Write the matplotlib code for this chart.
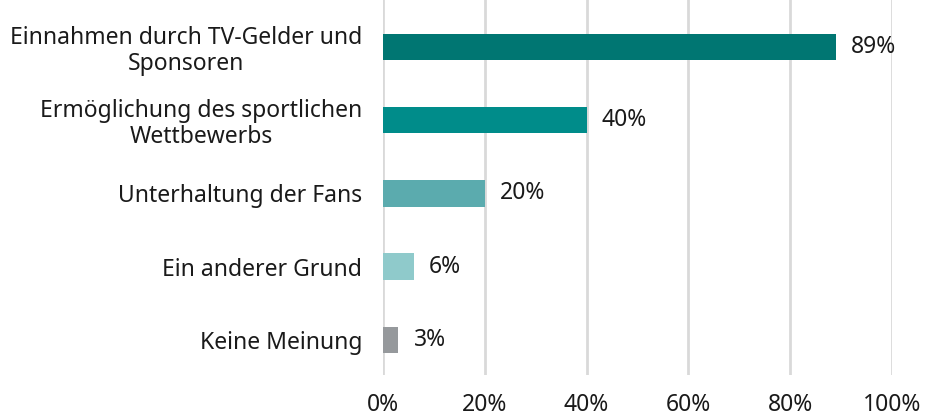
import matplotlib
matplotlib.use('Agg')
import matplotlib.pyplot as plt
import numpy as np

categories = ['Einnahmen durch TV-Gelder und\nSponsoren',
              'Ermöglichung des sportlichen\nWettbewerbs',
              'Unterhaltung der Fans',
              'Ein anderer Grund',
              'Keine Meinung']
values = [89, 40, 20, 6, 3]
colors = ['#007672', '#008C8A', '#5BABAE', '#8FCACB', '#96999C']
xticks = [0, 20, 40, 60, 80, 100]

plt.rcParams['font.family'] = ['Noto Sans', 'DejaVu Sans']
fs = 16.5

fig = plt.figure(figsize=(9.27, 4.18), dpi=100)
ax = fig.add_axes([383 / 927, 1 - 375 / 418, (892 - 383) / 927, 375 / 418])

y = np.arange(len(values))
ax.barh(y, values, height=0.36, color=colors, zorder=3)
for yi, v in zip(y, values):
    ax.text(v + 3, yi, f'{v}%', va='center', ha='left', fontsize=fs, color='#1a1a1a')

ax.set_ylim(len(values) - 1 + 0.48, -0.64)
ax.set_xlim(0, 100)
ax.set_yticks(y)
ax.set_yticklabels(categories, fontsize=fs, color='#1a1a1a', linespacing=1.1,
                   multialignment='center')
ax.set_xticks(xticks)
ax.set_xticklabels([f'{t}%' for t in xticks], fontsize=fs, color='#1a1a1a')
ax.tick_params(length=0)
ax.tick_params(axis='y', pad=15)
ax.tick_params(axis='x', pad=13)
ax.grid(axis='x', color='#D9D9D9', linewidth=2, zorder=0)
ax.grid(axis='y', visible=False)
for s in ax.spines.values():
    s.set_visible(False)

fig.savefig('out.png', dpi=100)
